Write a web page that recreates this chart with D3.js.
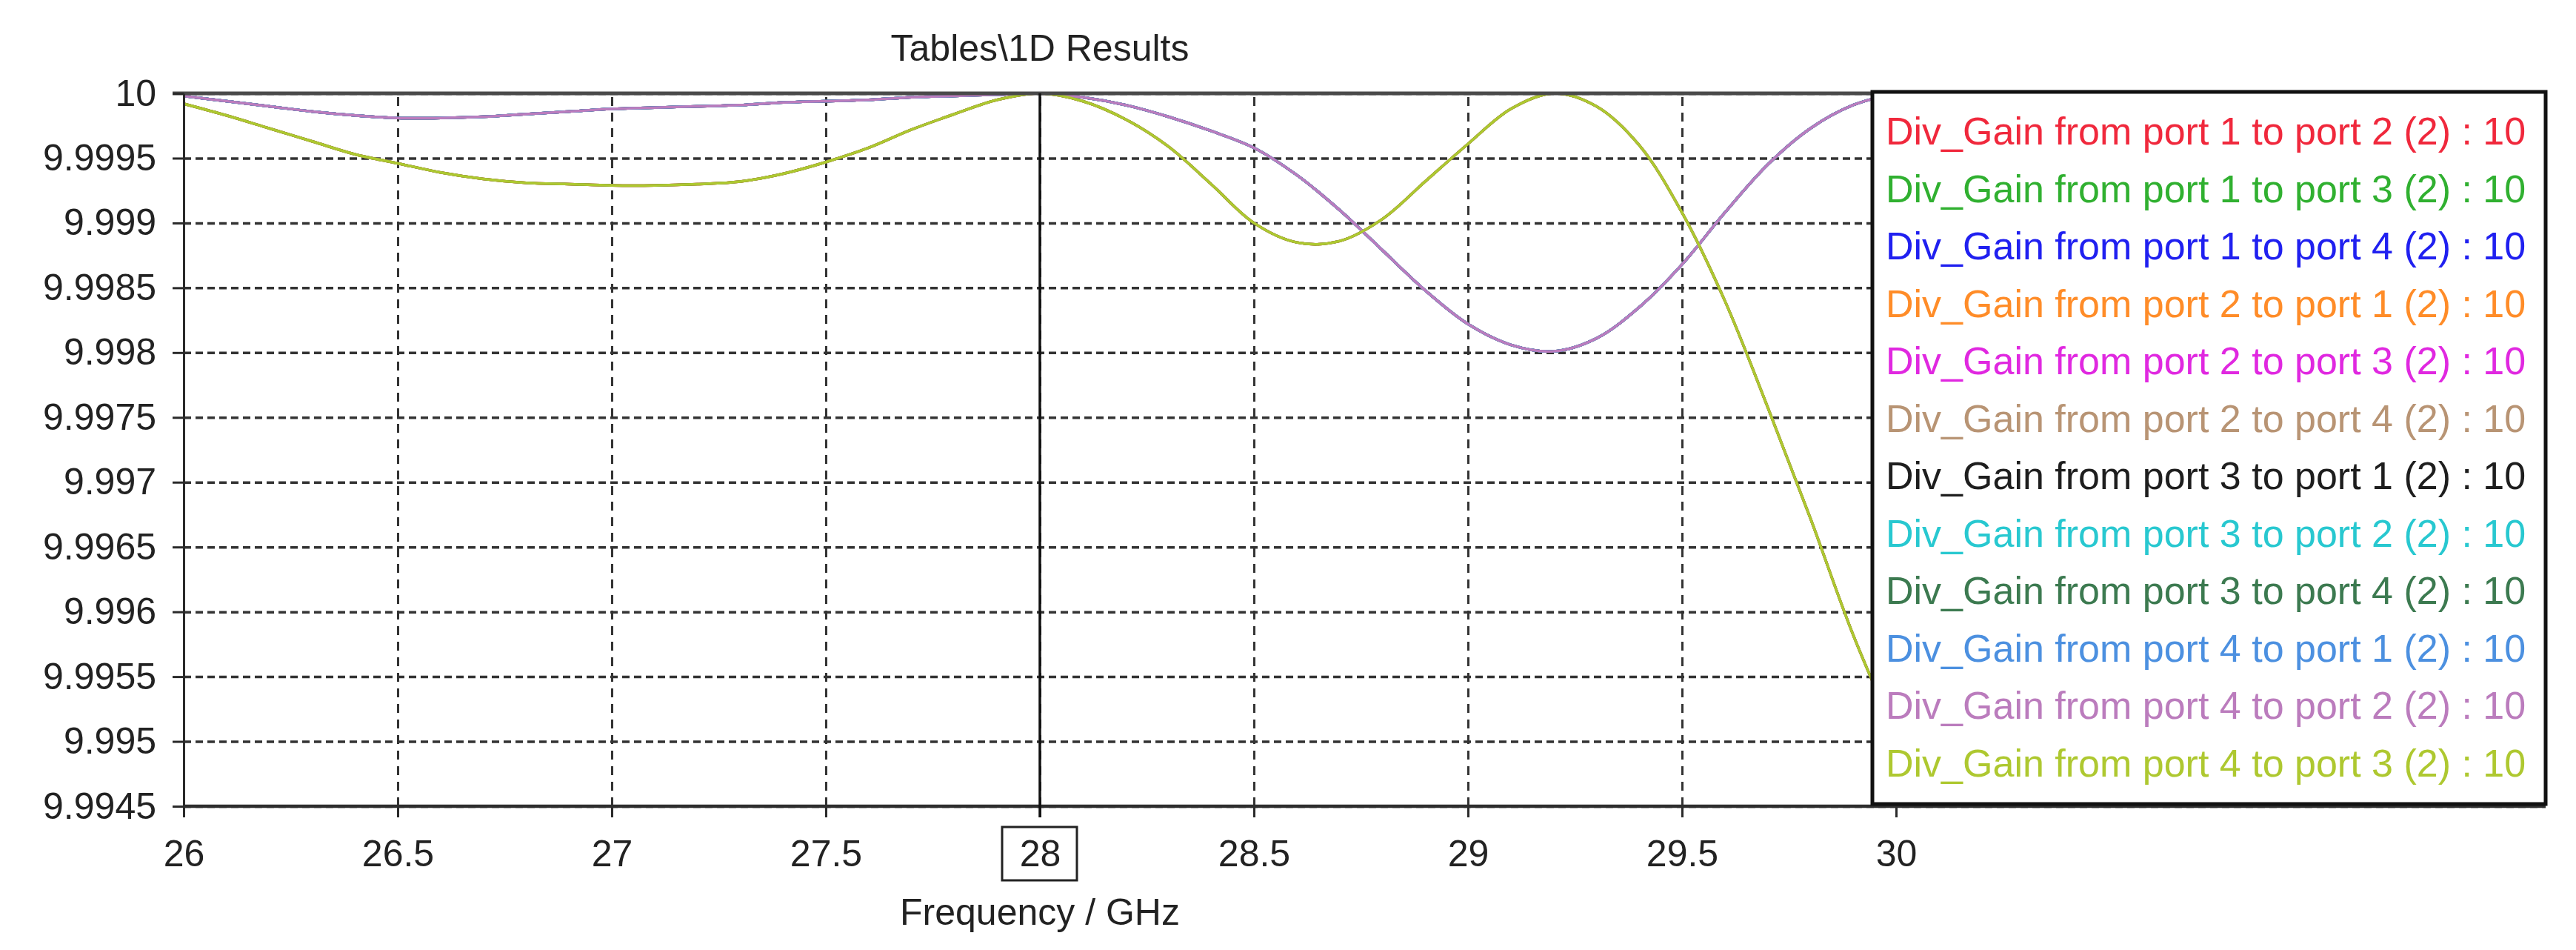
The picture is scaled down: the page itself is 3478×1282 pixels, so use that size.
<!DOCTYPE html>
<meta charset="utf-8">
<style>
body {
  margin: 0;
  background-color: #ffffff;
}
text {
  font-family: "Liberation Sans", Arial, sans-serif;
  fill: #222;
}
.axis path,
.axis line {
  fill: none;
  stroke: #2a2a2a;
  stroke-width: 3px;
}
.axis text {
  font-size: 50px;
  fill: #222;
}
.hgrid line {
  stroke: #333;
  stroke-width: 3.5px;
  stroke-dasharray: 10, 6;
}
.vgrid line {
  stroke: #333;
  stroke-width: 3px;
  stroke-dasharray: 12, 9;
}
.grid path {
  display: none;
}
.line {
  fill: none;
  stroke-width: 3.5px;
}
</style>
<svg class="chart" width="3478" height="1282"></svg>

<script src="https://cdn.jsdelivr.net/npm/d3@7"></script>
<script>
// frequency samples (GHz)
var freq = [26.0, 26.1, 26.2, 26.3, 26.4, 26.5, 26.6, 26.7, 26.8, 26.9,
            27.0, 27.1, 27.2, 27.3, 27.4, 27.5, 27.6, 27.7, 27.8, 27.9,
            28.0, 28.1, 28.2, 28.3, 28.4, 28.5, 28.6, 28.7, 28.8, 28.9,
            29.0, 29.1, 29.2, 29.3, 29.4, 29.5, 29.6, 29.7, 29.8, 29.9, 30.0];

// the two shapes visible in the plot (all traces fall on one of them)
var gainMauve = [9.99998, 9.99994, 9.99990, 9.99986, 9.99983, 9.99981, 9.99981, 9.99982, 9.99984, 9.99986,
                 9.99988, 9.99989, 9.99990, 9.99991, 9.99993, 9.99994, 9.99995, 9.99997, 9.99998, 9.99999,
                 10.0, 9.99997, 9.99991, 9.99982, 9.99971, 9.99958, 9.99937, 9.99910, 9.99879, 9.99848,
                 9.99822, 9.99806, 9.99801, 9.99811, 9.99835, 9.99868, 9.99908, 9.99945, 9.99973, 9.99991, 10.0];

var gainLime = [9.99992, 9.99983, 9.99973, 9.99963, 9.99953, 9.99946, 9.99939, 9.99934, 9.99931, 9.99930,
                9.99929, 9.99929, 9.99930, 9.99932, 9.99938, 9.99947, 9.99958, 9.99972, 9.99984, 9.99995,
                10.0, 9.99994, 9.99980, 9.99959, 9.99930, 9.99900, 9.99885, 9.99886, 9.99903, 9.99932,
                9.99961, 9.99988, 10.0, 9.99990, 9.99960, 9.99908, 9.99840, 9.99758, 9.99672, 9.99582, 9.99505];

var seriesNames = [
  "Div_Gain from port 1 to port 2 (2) : 10",
  "Div_Gain from port 1 to port 3 (2) : 10",
  "Div_Gain from port 1 to port 4 (2) : 10",
  "Div_Gain from port 2 to port 1 (2) : 10",
  "Div_Gain from port 2 to port 3 (2) : 10",
  "Div_Gain from port 2 to port 4 (2) : 10",
  "Div_Gain from port 3 to port 1 (2) : 10",
  "Div_Gain from port 3 to port 2 (2) : 10",
  "Div_Gain from port 3 to port 4 (2) : 10",
  "Div_Gain from port 4 to port 1 (2) : 10",
  "Div_Gain from port 4 to port 2 (2) : 10",
  "Div_Gain from port 4 to port 3 (2) : 10"
];
var seriesColors = ["#f0283c", "#30b030", "#2020f0", "#ff8c28", "#e028e0", "#b89474",
                    "#1e1e1e", "#28c8d0", "#3c7a50", "#4c90e0", "#bb7cbd", "#aec830"];
// which measured shape each trace follows
var seriesShape = ["lime", "mauve", "mauve", "lime", "mauve", "mauve",
                   "mauve", "mauve", "lime", "mauve", "mauve", "lime"];

var xTicks = [26, 26.5, 27, 27.5, 28, 28.5, 29, 29.5, 30];
var yTicks = [10, 9.9995, 9.999, 9.9985, 9.998, 9.9975, 9.997, 9.9965, 9.996, 9.9955, 9.995, 9.9945];
var markerFreq = 28;

var svg = d3.select(".chart"),
    margin = {top: 126, left: 248},
    width = 3189,
    height = 962;

var x = d3.scaleLinear().domain([26, 30]).range([0, 2312]);
var y = d3.scaleLinear().domain([9.9945, 10]).range([height, 0]);

var g = svg.append("g")
    .attr("transform", "translate(" + margin.left + "," + margin.top + ")");

// grid
g.append("g")
    .attr("class", "grid hgrid")
    .call(d3.axisLeft(y).tickValues(yTicks).tickSize(-width).tickFormat(""));
g.append("g")
    .attr("class", "grid vgrid")
    .attr("transform", "translate(0," + height + ")")
    .call(d3.axisBottom(x).tickValues(xTicks).tickSizeInner(-height).tickFormat(""));

// traces
var shapes = {mauve: gainMauve, lime: gainLime};
var line = d3.line()
    .x(function(d) { return x(d.f); })
    .y(function(d) { return y(d.v); })
    .curve(d3.curveCatmullRom.alpha(0.5));

seriesNames.forEach(function(name, i) {
  var vals = shapes[seriesShape[i]];
  var pts = freq.map(function(f, j) { return {f: f, v: vals[j]}; });
  g.append("path")
      .datum(pts)
      .attr("class", "line")
      .attr("stroke", seriesColors[i])
      .attr("d", line);
});

// frame lines
g.append("line")
    .attr("x1", -15).attr("x2", width)
    .attr("y1", 0).attr("y2", 0)
    .style("stroke", "#4a4a4a").style("stroke-width", "5px");

g.append("g")
    .attr("class", "axis")
    .call(d3.axisLeft(y).tickValues(yTicks).tickSize(15).tickSizeOuter(0).tickPadding(22)
      .tickFormat(function(d) { return String(d); }));

var xAxis = g.append("g")
    .attr("class", "axis")
    .attr("transform", "translate(0," + height + ")")
    .call(d3.axisBottom(x).tickValues(xTicks).tickSize(15).tickSizeOuter(0).tickPadding(30)
      .tickFormat(function(d) { return String(d); }));
xAxis.select(".domain").remove();

g.append("line")
    .attr("x1", 0).attr("x2", width)
    .attr("y1", height).attr("y2", height)
    .style("stroke", "#2e2e2e").style("stroke-width", "4.5px");

// marker at 28 GHz
g.append("line")
    .attr("x1", x(markerFreq)).attr("x2", x(markerFreq))
    .attr("y1", 0).attr("y2", height + 15)
    .style("stroke", "#111").style("stroke-width", "3.5px");
g.append("rect")
    .attr("x", x(markerFreq) - 51)
    .attr("y", height + 28)
    .attr("width", 101)
    .attr("height", 72)
    .style("fill", "none")
    .style("stroke", "#222")
    .style("stroke-width", "3px");

// legend
var legX = x(30) - 32,
    legW = width - legX;
g.append("rect")
    .attr("x", legX)
    .attr("y", -2)
    .attr("width", legW)
    .attr("height", height - 1)
    .style("fill", "#fff")
    .style("stroke", "#111")
    .style("stroke-width", "5px");

g.selectAll(".legText")
    .data(seriesNames)
  .enter().append("text")
    .attr("class", "legText")
    .attr("x", legX + 18)
    .attr("y", function(d, i) { return 69 + i * 77.5; })
    .style("font-size", "52px")
    .style("fill", function(d, i) { return seriesColors[i]; })
    .text(function(d) { return d; });

// titles
svg.append("text")
    .attr("x", margin.left + x(28))
    .attr("y", 82)
    .attr("text-anchor", "middle")
    .style("font-size", "50px")
    .text("Tables\\1D Results");

svg.append("text")
    .attr("x", margin.left + x(28))
    .attr("y", 1248)
    .attr("text-anchor", "middle")
    .style("font-size", "50px")
    .text("Frequency / GHz");
</script>
